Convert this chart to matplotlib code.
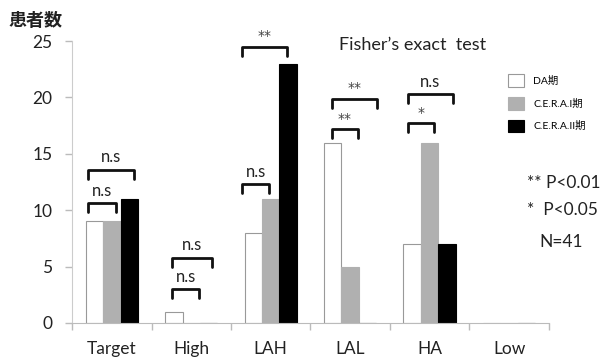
import numpy as np
import matplotlib
matplotlib.use('Agg')
import matplotlib.pyplot as plt

plt.rcParams['font.family'] = ['Lato', 'Noto Sans CJK JP', 'DejaVu Sans']

categories = ['Target', 'High', 'LAH', 'LAL', 'HA', 'Low']
series_names = ['DA期', 'C.E.R.A.I期', 'C.E.R.A.II期']
da = [9, 1, 8, 16, 7, 0]
cera1 = [9, 0, 11, 5, 16, 0]
cera2 = [11, 0, 23, 0, 7, 0]
yticks = [0, 5, 10, 15, 20, 25]

# significance brackets: (x_left, x_right, y_top, label)
brackets = [
    (-0.30, 0.05, 10.6, 'n.s'), (-0.30, 0.28, 13.6, 'n.s'),
    (0.76, 1.10, 3.0, 'n.s'), (0.76, 1.26, 5.8, 'n.s'),
    (1.64, 1.98, 12.3, 'n.s'), (1.64, 2.20, 24.5, '**'),
    (2.77, 3.10, 17.2, '**'), (2.77, 3.34, 19.9, '**'),
    (3.73, 4.05, 17.7, '*'), (3.73, 4.29, 20.3, 'n.s'),
]

fig = plt.figure(figsize=(6.16, 3.6), dpi=100)
ax = fig.add_axes([0.117, 0.103, 0.774, 0.783])

x = np.arange(len(categories))
w = 0.22
colors = ['white', '#b0b0b0', 'black']
edges = ['#999999', '#b0b0b0', 'black']
for i, (vals, name) in enumerate(zip([da, cera1, cera2], series_names)):
    ax.bar(x + (i - 1) * w, vals, w, color=colors[i], edgecolor=edges[i],
           linewidth=0.8, label=name, zorder=2)

for x0, x1, yt, lab in brackets:
    ax.plot([x0, x0, x1, x1], [yt - 0.8, yt, yt, yt - 0.8], color='#111111',
            lw=2.0, solid_joinstyle='round', solid_capstyle='round',
            clip_on=False, zorder=3)
    if lab == 'n.s':
        ax.text((x0 + x1) / 2, yt + 0.4, lab, ha='center', va='bottom',
                fontsize=12, color='#222222')
    else:
        ax.text((x0 + x1) / 2, yt + 0.3, lab, ha='center', va='bottom',
                fontsize=10, color='#444444', family='DejaVu Sans')

ax.set_xlim(-0.5, len(categories) - 0.5)
ax.set_ylim(0, 25)
ax.set_yticks(yticks)
ax.set_xticks(x)
ax.set_xticklabels(categories)
ax.set_xticks(np.arange(len(categories) + 1) - 0.5, minor=True)
ax.tick_params(axis='x', which='major', length=0, pad=13, labelsize=12.5,
               labelcolor='#222222')
ax.tick_params(axis='x', which='minor', length=5, color='#bbbbbb', width=1)
ax.tick_params(axis='y', length=5, color='#bbbbbb', width=1, pad=9,
               labelsize=12.5, labelcolor='#222222')
for s in ['top', 'right']:
    ax.spines[s].set_visible(False)
ax.spines['left'].set_color('#cccccc')
ax.spines['bottom'].set_color('#bbbbbb')

fig.text(0.057, 0.944, '患者数', ha='center', va='center', fontsize=13,
         fontweight='bold', color='#222222')
fig.text(0.669, 0.875, 'Fisher\u2019s exact  test', ha='center', va='center',
         fontsize=13, color='#222222')

leg = ax.legend(loc='upper left', bbox_to_anchor=(0.895, 0.915), frameon=False,
                fontsize=7.5, handlelength=1.5, handleheight=1.5,
                labelspacing=0.95, handletextpad=0.9)

fig.text(0.855, 0.492, '** P<0.01', ha='left', va='center', fontsize=12.5,
         color='#222222')
fig.text(0.855, 0.417, '*  P<0.05', ha='left', va='center', fontsize=12.5,
         color='#222222')
fig.text(0.876, 0.328, 'N=41', ha='left', va='center', fontsize=12.5,
         color='#222222')

fig.savefig('out.png', dpi=100)
